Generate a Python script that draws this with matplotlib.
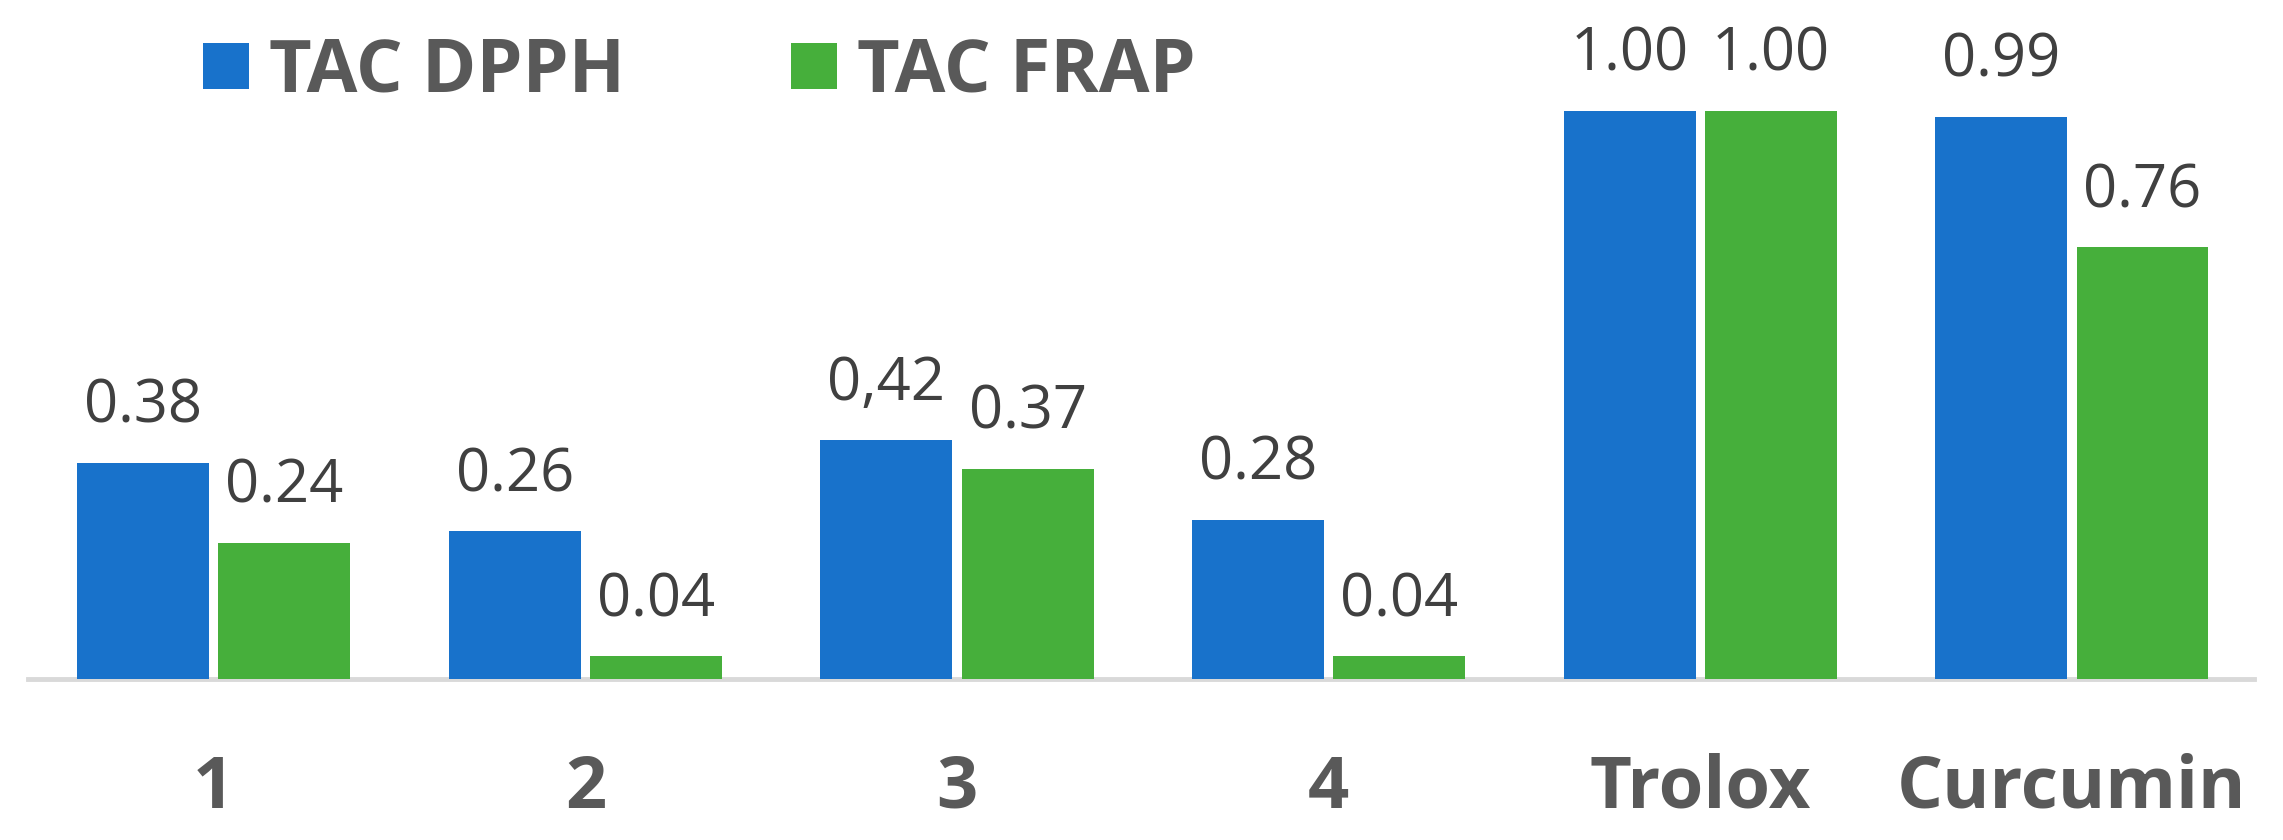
import matplotlib
matplotlib.use("Agg")
import matplotlib.pyplot as plt
import numpy as np

categories = ["1", "2", "3", "4", "Trolox", "Curcumin"]
series_names = ["TAC DPPH", "TAC FRAP"]
dpph = [0.38, 0.26, 0.42, 0.28, 1.00, 0.99]
frap = [0.24, 0.04, 0.37, 0.04, 1.00, 0.76]
dpph_labels = ["0.38", "0.26", "0,42", "0.28", "1.00", "0.99"]
frap_labels = ["0.24", "0.04", "0.37", "0.04", "1.00", "0.76"]

BLUE = "#1872CB"
GREEN = "#46AF3B"

plt.rcParams['font.family'] = ['Open Sans', 'DejaVu Sans']

W, H, DPI = 2283, 840, 100
fig = plt.figure(figsize=(W / DPI, H / DPI), dpi=DPI)
ax_left = 28 / W
ax_right = 2254 / W
ax_bottom = (H - 679) / H
ymax = 1.18
ax_height = ymax * 568 / H
ax = fig.add_axes([ax_left, ax_bottom, ax_right - ax_left, ax_height])

x = np.arange(len(categories))
bw = 0.355
off = 0.19
b1 = ax.bar(x - off, dpph, width=bw, color=BLUE, label=series_names[0], zorder=2)
b2 = ax.bar(x + off, frap, width=bw, color=GREEN, label=series_names[1], zorder=2)

for bars, labs in ((b1, dpph_labels), (b2, frap_labels)):
    for rect, lab in zip(bars, labs):
        ax.annotate(lab, xy=(rect.get_x() + rect.get_width() / 2, rect.get_height()),
                    xytext=(0, 29), textcoords="offset points",
                    ha="center", va="baseline", fontsize=43, color="#404040")

ax.set_xlim(-0.5, 5.49)
ax.set_ylim(0, ymax)
for s in ("left", "right", "top"):
    ax.spines[s].set_visible(False)
ax.spines["bottom"].set_color("#D9D9D9")
ax.spines["bottom"].set_linewidth(3.5)
ax.spines["bottom"].set_zorder(1)
ax.set_yticks([])
ax.set_xticks(x)
ax.set_xticklabels(categories, fontsize=52, fontweight="bold", color="#595959")
ax.tick_params(axis="x", length=0, pad=53)

leg = fig.legend(handles=[b1, b2], labels=series_names, loc="center left",
                 bbox_to_anchor=(203 / W, 1 - 73 / H), ncol=2, frameon=False,
                 prop={"size": 53, "weight": "bold"}, handlelength=0.62, handleheight=0.57,
                 handletextpad=0.28, columnspacing=2.25, borderpad=0, borderaxespad=0)
for t in leg.get_texts():
    t.set_color("#595959")

fig.savefig("out.png", dpi=DPI, facecolor="white")
